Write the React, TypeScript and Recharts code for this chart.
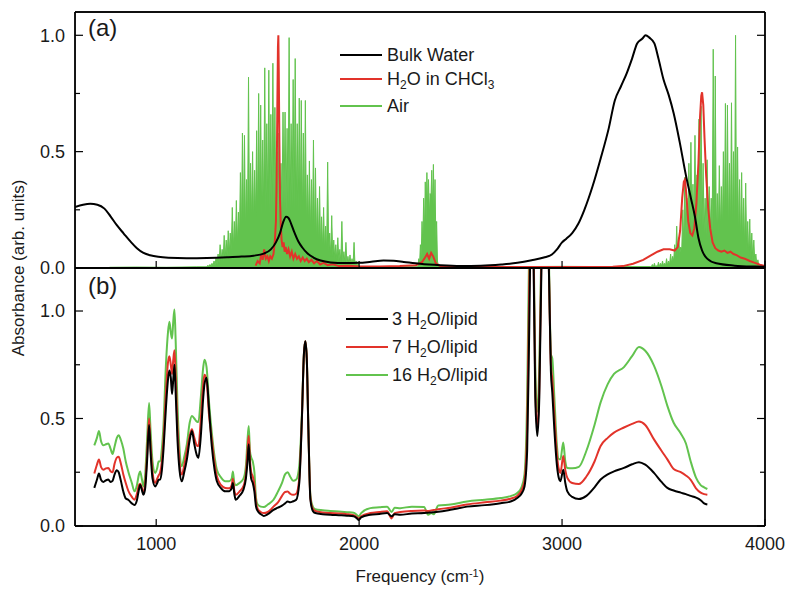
import { Area, ComposedChart, Line, LineChart, XAxis, YAxis } from 'recharts';

// ---- panel (a): reference spectra -------------------------------------

const bulkWater: [number, number][] = [
  [600, 0.262], [640, 0.272], [675, 0.276], [710, 0.272], [745, 0.255], [775, 0.222],
  [805, 0.185], [840, 0.148], [875, 0.112], [905, 0.085], [935, 0.066], [970, 0.055],
  [1010, 0.048], [1060, 0.044], [1150, 0.042], [1250, 0.043], [1350, 0.046], [1420, 0.049],
  [1480, 0.053], [1530, 0.062], [1565, 0.08], [1590, 0.11], [1610, 0.15], [1625, 0.195],
  [1640, 0.22], [1652, 0.215], [1665, 0.19], [1680, 0.155], [1700, 0.115], [1720, 0.088],
  [1745, 0.063], [1775, 0.045], [1810, 0.032], [1860, 0.024], [1930, 0.021], [2000, 0.022],
  [2060, 0.027], [2120, 0.032], [2170, 0.031], [2220, 0.026], [2300, 0.018], [2400, 0.012],
  [2500, 0.009], [2600, 0.01], [2700, 0.015], [2780, 0.022], [2850, 0.033], [2910, 0.045],
  [2950, 0.058], [2975, 0.08], [3000, 0.11], [3020, 0.125], [3050, 0.15], [3080, 0.19],
  [3110, 0.25], [3150, 0.35], [3190, 0.47], [3230, 0.6], [3260, 0.72], [3290, 0.78],
  [3320, 0.84], [3345, 0.9], [3370, 0.965], [3395, 0.985], [3412, 1.0], [3430, 0.99],
  [3455, 0.965], [3475, 0.9], [3500, 0.81], [3525, 0.745], [3550, 0.665], [3580, 0.54],
  [3610, 0.4], [3635, 0.3], [3655, 0.22], [3672, 0.13], [3690, 0.075], [3715, 0.04],
  [3760, 0.02], [3850, 0.01], [3950, 0.006], [4000, 0.005],
];

const waterInChcl3: [number, number][] = [
  [1490, 0.01], [1500, 0.03], [1510, 0.02], [1518, 0.06], [1525, 0.035], [1532, 0.08],
  [1540, 0.04], [1548, 0.05], [1555, 0.03], [1562, 0.05], [1570, 0.04], [1578, 0.06],
  [1585, 0.12], [1590, 0.2], [1594, 0.4], [1597, 0.7], [1600, 0.95], [1602, 1.0],
  [1604, 0.85], [1607, 0.55], [1610, 0.3], [1614, 0.18], [1618, 0.12], [1623, 0.09],
  [1628, 0.11], [1633, 0.07], [1638, 0.09], [1645, 0.06], [1652, 0.08], [1660, 0.05],
  [1668, 0.07], [1676, 0.04], [1685, 0.06], [1694, 0.04], [1703, 0.05], [1712, 0.03],
  [1722, 0.045], [1732, 0.03], [1742, 0.04], [1752, 0.025], [1765, 0.035], [1778, 0.02],
  [1792, 0.03], [1808, 0.015], [1825, 0.022], [1845, 0.012], [1870, 0.016], [1900, 0.008],
  [1950, 0.01], [2000, 0.006], [2100, 0.006], [2200, 0.008], [2280, 0.012], [2310, 0.025],
  [2325, 0.045], [2335, 0.06], [2345, 0.04], [2355, 0.065], [2365, 0.05], [2378, 0.02],
  [2400, 0.008], [2500, 0.005], [2700, 0.004], [2900, 0.004], [3100, 0.004], [3250, 0.005],
  [3300, 0.008], [3350, 0.018], [3400, 0.035], [3440, 0.055], [3470, 0.07], [3500, 0.08],
  [3530, 0.08], [3555, 0.075], [3570, 0.09], [3582, 0.16], [3592, 0.3], [3600, 0.37],
  [3606, 0.38], [3613, 0.31], [3622, 0.2], [3632, 0.15], [3642, 0.14], [3652, 0.17],
  [3662, 0.28], [3672, 0.45], [3680, 0.65], [3686, 0.74], [3690, 0.755], [3696, 0.7],
  [3702, 0.56], [3710, 0.4], [3720, 0.26], [3730, 0.17], [3742, 0.11], [3755, 0.085],
  [3770, 0.075], [3785, 0.07], [3800, 0.075], [3815, 0.065], [3830, 0.07], [3845, 0.06],
  [3860, 0.055], [3880, 0.045], [3900, 0.04], [3925, 0.03], [3950, 0.022], [3975, 0.014],
  [4000, 0.008],
];

// air: quiet stretches plus three rotational bands sampled every 5 / 4 / 5 cm-1
const airQuietLow: [number, number][] = [[770, 0.003], [900, 0.004], [1050, 0.003], [1200, 0.005]];
const airBand1Start = 1250;
const airBand1 = [
  0.005, 0.012, 0.004, 0.015, 0.006, 0.02, 0.008, 0.03, 0.01, 0.045,
  0.015, 0.06, 0.02, 0.1, 0.03, 0.08, 0.03, 0.14, 0.04, 0.12,
  0.05, 0.16, 0.06, 0.15, 0.07, 0.26, 0.08, 0.2, 0.09, 0.29,
  0.1, 0.24, 0.12, 0.41, 0.14, 0.58, 0.15, 0.57, 0.16, 0.38,
  0.18, 0.82, 0.17, 0.45, 0.2, 0.5, 0.19, 0.42, 0.22, 0.59,
  0.21, 0.75, 0.23, 0.7, 0.2, 0.55, 0.24, 0.86, 0.22, 0.62,
  0.25, 0.85, 0.23, 0.66, 0.26, 0.88, 0.24, 0.69, 0.22, 0.5,
  0.2, 0.58, 0.22, 0.45, 0.25, 0.67, 0.26, 0.67, 0.24, 0.6,
  0.27, 0.99, 0.25, 0.62, 0.26, 0.81, 0.24, 0.9, 0.25, 0.62,
  0.23, 0.73, 0.22, 0.72, 0.2, 0.58, 0.19, 0.72, 0.18, 0.4,
  0.17, 0.46, 0.15, 0.38, 0.14, 0.55, 0.12, 0.43, 0.11, 0.3,
  0.1, 0.35, 0.09, 0.22, 0.08, 0.26, 0.07, 0.18, 0.07, 0.455,
  0.06, 0.15, 0.05, 0.225, 0.05, 0.12, 0.04, 0.1, 0.035, 0.13,
  0.03, 0.08, 0.025, 0.2, 0.02, 0.07, 0.02, 0.11, 0.015, 0.05,
  0.012, 0.056, 0.01, 0.04, 0.008, 0.11, 0.006, 0.03, 0.005, 0.02,
  0.004,
];
const airQuietMid: [number, number][] = [[2100, 0.004], [2200, 0.005], [2285, 0.005]];
const airBand2Start = 2290;
const airBand2 = [
  0.01, 0.04, 0.02, 0.1, 0.05, 0.2, 0.1, 0.3, 0.15, 0.37,
  0.2, 0.41, 0.25, 0.38, 0.22, 0.32, 0.3, 0.42, 0.25, 0.445,
  0.2, 0.38, 0.12, 0.2, 0.03, 0.01,
];
const airQuietHigh: [number, number][] = [
  [2400, 0.005], [2600, 0.006], [2800, 0.006], [3000, 0.007], [3200, 0.006], [3435, 0.006],
];
const airBand3Start = 3440;
const airBand3 = [
  0.005, 0.015, 0.004, 0.02, 0.006, 0.01, 0.005, 0.025, 0.006, 0.02,
  0.008, 0.03, 0.01, 0.02, 0.01, 0.04, 0.012, 0.03, 0.015, 0.06,
  0.02, 0.05, 0.03, 0.1, 0.04, 0.18, 0.05, 0.13, 0.06, 0.09,
  0.08, 0.25, 0.1, 0.39, 0.12, 0.3, 0.14, 0.45, 0.16, 0.54,
  0.15, 0.36, 0.17, 0.57, 0.15, 0.4, 0.16, 0.64, 0.18, 0.695,
  0.17, 0.45, 0.15, 0.3, 0.14, 0.465, 0.13, 0.35, 0.14, 0.3,
  0.15, 0.94, 0.14, 0.825, 0.15, 0.32, 0.14, 0.44, 0.16, 0.35,
  0.15, 0.5, 0.17, 0.707, 0.16, 0.7, 0.15, 0.45, 0.16, 0.71,
  0.15, 0.5, 0.14, 1.0, 0.13, 0.52, 0.12, 0.38, 0.1, 0.41,
  0.09, 0.3, 0.08, 0.365, 0.06, 0.2, 0.05, 0.21, 0.04, 0.15,
  0.03, 0.12, 0.02, 0.06, 0.01, 0.035, 0.005, 0.01, 0.003,
];
const airQuietEnd: [number, number][] = [[3990, 0.002], [4000, 0.001]];

// ---- panel (b): hydrated lipid films ----------------------------------

const freqB = [
  695, 708, 718, 728, 740, 752, 764, 775, 785, 795, 806, 815, 826, 838, 850, 862, 880, 893,
  905, 915, 921, 930, 937, 945, 955, 965, 972, 982, 995, 1005, 1012, 1019, 1028, 1036, 1048,
  1058, 1065, 1072, 1078, 1084, 1090, 1096, 1105, 1115, 1126, 1138, 1151, 1165, 1176, 1188,
  1200, 1208, 1220, 1232, 1238, 1248, 1260, 1274, 1288, 1299, 1320, 1340, 1360, 1372, 1378,
  1385, 1392, 1410, 1430, 1442, 1450, 1456, 1462, 1468, 1476, 1484, 1492, 1500, 1515, 1530,
  1550, 1578, 1600, 1620, 1635, 1648, 1660, 1675, 1690, 1705, 1718, 1728, 1735, 1742, 1750,
  1760, 1772, 1784, 1820, 1858, 1900, 1940, 1973, 1990, 1998, 2010, 2055, 2100, 2138, 2160,
  2175, 2203, 2260, 2320, 2340, 2355, 2368, 2390, 2450, 2532, 2620, 2697, 2750, 2779, 2800,
  2815, 2828, 2838, 2850, 2860, 2868, 2878, 2888, 2900, 2918, 2935, 2945, 2952, 2962, 2975,
  2985, 2992, 3006, 3016, 3026, 3050, 3083, 3120, 3160, 3190, 3225, 3256, 3305, 3345, 3379,
  3410, 3453, 3490, 3519, 3550, 3585, 3610, 3634, 3660, 3683, 3700, 3716,
];
const lipid3 = [
  0.177, 0.215, 0.244, 0.215, 0.205, 0.212, 0.216, 0.205, 0.21, 0.24, 0.259, 0.25, 0.21, 0.16,
  0.128, 0.122, 0.105, 0.098, 0.12, 0.17, 0.192, 0.165, 0.145, 0.17, 0.3, 0.47, 0.35, 0.22,
  0.184, 0.2, 0.215, 0.216, 0.26, 0.356, 0.55, 0.68, 0.723, 0.69, 0.614, 0.68, 0.75, 0.62,
  0.4, 0.26, 0.208, 0.25, 0.309, 0.4, 0.442, 0.38, 0.33, 0.317, 0.42, 0.6, 0.66, 0.69, 0.55,
  0.372, 0.26, 0.208, 0.175, 0.161, 0.162, 0.175, 0.2, 0.15, 0.122, 0.14, 0.169, 0.22, 0.3,
  0.38, 0.28, 0.22, 0.2, 0.16, 0.09, 0.07, 0.055, 0.047, 0.055, 0.075, 0.085, 0.095, 0.105,
  0.114, 0.11, 0.115, 0.122, 0.2, 0.5, 0.8, 0.859, 0.78, 0.45, 0.122, 0.07, 0.06, 0.055,
  0.052, 0.05, 0.048, 0.045, 0.035, 0.028, 0.04, 0.052, 0.056, 0.06, 0.045, 0.055, 0.052,
  0.058, 0.06, 0.062, 0.063, 0.064, 0.066, 0.075, 0.09, 0.097, 0.106, 0.115, 0.13, 0.15,
  0.184, 0.35, 0.9, 1.6, 1.2, 0.6, 0.418, 0.6, 1.3, 1.7, 1.2, 0.72, 0.62, 0.45, 0.28, 0.22,
  0.208, 0.262, 0.2, 0.161, 0.135, 0.125, 0.14, 0.18, 0.216, 0.24, 0.254, 0.27, 0.287,
  0.297, 0.285, 0.247, 0.205, 0.177, 0.165, 0.155, 0.148, 0.14, 0.132, 0.12, 0.105, 0.1,
];
const lipid7 = [
  0.244, 0.285, 0.309, 0.275, 0.262, 0.268, 0.27, 0.255, 0.25, 0.29, 0.318, 0.322, 0.29, 0.24,
  0.2, 0.165, 0.135, 0.122, 0.15, 0.19, 0.197, 0.175, 0.153, 0.19, 0.33, 0.5, 0.38, 0.25,
  0.2, 0.22, 0.235, 0.247, 0.3, 0.4, 0.62, 0.76, 0.79, 0.75, 0.707, 0.77, 0.817, 0.7, 0.46,
  0.3, 0.239, 0.28, 0.35, 0.42, 0.45, 0.41, 0.375, 0.372, 0.5, 0.66, 0.703, 0.68, 0.52,
  0.403, 0.29, 0.231, 0.19, 0.177, 0.175, 0.19, 0.22, 0.165, 0.145, 0.16, 0.185, 0.24, 0.35,
  0.42, 0.31, 0.25, 0.23, 0.19, 0.11, 0.08, 0.065, 0.06, 0.065, 0.09, 0.11, 0.14, 0.158,
  0.16, 0.15, 0.145, 0.15, 0.22, 0.5, 0.8, 0.859, 0.78, 0.45, 0.13, 0.08, 0.07, 0.063, 0.06,
  0.058, 0.055, 0.05, 0.04, 0.035, 0.045, 0.06, 0.065, 0.068, 0.035, 0.06, 0.065, 0.07,
  0.072, 0.07, 0.072, 0.074, 0.078, 0.085, 0.1, 0.11, 0.118, 0.128, 0.14, 0.165, 0.21, 0.45,
  1.1, 1.6, 1.25, 0.65, 0.45, 0.65, 1.35, 1.7, 1.2, 0.75, 0.68, 0.52, 0.33, 0.26, 0.247,
  0.325, 0.26, 0.224, 0.2, 0.195, 0.23, 0.3, 0.372, 0.41, 0.434, 0.458, 0.475, 0.486, 0.47,
  0.403, 0.35, 0.31, 0.265, 0.25, 0.235, 0.215, 0.175, 0.155, 0.148, 0.145,
];
const lipid16 = [
  0.375, 0.41, 0.442, 0.395, 0.375, 0.38, 0.384, 0.36, 0.335, 0.37, 0.41, 0.422, 0.4, 0.36,
  0.3, 0.255, 0.2, 0.161, 0.19, 0.24, 0.254, 0.215, 0.184, 0.23, 0.4, 0.572, 0.45, 0.3,
  0.247, 0.27, 0.3, 0.301, 0.36, 0.47, 0.75, 0.9, 0.95, 0.9, 0.872, 0.95, 1.007, 0.86, 0.56,
  0.36, 0.278, 0.32, 0.38, 0.48, 0.512, 0.5, 0.486, 0.484, 0.6, 0.74, 0.773, 0.74, 0.58,
  0.434, 0.32, 0.262, 0.225, 0.208, 0.208, 0.22, 0.254, 0.2, 0.19, 0.2, 0.22, 0.28, 0.4,
  0.465, 0.35, 0.32, 0.3, 0.25, 0.13, 0.1, 0.09, 0.088, 0.1, 0.122, 0.16, 0.2, 0.24, 0.25,
  0.23, 0.21, 0.216, 0.28, 0.52, 0.8, 0.859, 0.78, 0.45, 0.14, 0.09, 0.078, 0.073, 0.07,
  0.067, 0.064, 0.062, 0.05, 0.044, 0.06, 0.083, 0.087, 0.09, 0.065, 0.085, 0.083, 0.09,
  0.088, 0.052, 0.06, 0.055, 0.095, 0.1, 0.114, 0.122, 0.13, 0.14, 0.153, 0.18, 0.24, 0.6,
  1.3, 1.6, 1.3, 0.75, 0.53, 0.75, 1.4, 1.7, 1.25, 0.8, 0.778, 0.6, 0.37, 0.31, 0.31, 0.388,
  0.3, 0.27, 0.268, 0.275, 0.35, 0.47, 0.575, 0.66, 0.707, 0.739, 0.79, 0.833, 0.815, 0.746,
  0.65, 0.559, 0.48, 0.43, 0.385, 0.3, 0.225, 0.19, 0.18, 0.172,
];

// ---- axes ----------------------------------------------------------------

const xMajor = [1000, 2000, 3000, 4000];
const xMinor = [1500, 2500, 3500];
const yMajor = [0, 0.5, 1.0];
const yMinor = [0.25, 0.75];

const BLACK = '#000000';
const RED = '#e2332a';
const GREEN = '#62c34e';
const FONT = '"Liberation Sans", Arial, Helvetica, sans-serif';

const toRows = (pts: [number, number][]) => pts.map(([f, v]) => ({ f, v }));
const band = (start: number, step: number, vals: number[]) =>
  vals.map((v, i) => ({ f: start + i * step, v }));

const airData = [
  ...toRows(airQuietLow),
  ...band(airBand1Start, 5, airBand1),
  ...toRows(airQuietMid),
  ...band(airBand2Start, 4, airBand2),
  ...toRows(airQuietHigh),
  ...band(airBand3Start, 5, airBand3),
  ...toRows(airQuietEnd),
];

const lipidData = freqB.map((f, i) => ({
  f,
  three: lipid3[i],
  seven: lipid7[i],
  sixteen: lipid16[i],
}));

const axisLine = { stroke: '#000', strokeWidth: 1.4 };
const tickLine = { stroke: '#000', strokeWidth: 1.2 };
const blank = () => '';
// axes need a non-zero size to be drawn at all; keep it tiny so the frame stays put
const THIN = 0.01;

// Frame axes: bottom/left carry labels, top/right only mirror the ticks.
function frameAxes(yMax: number, showX: boolean) {
  const xCommon = {
    type: 'number' as const,
    domain: [600, 4000],
    allowDataOverflow: true,
    height: THIN,
    axisLine,
    tickLine,
    interval: 0 as const,
  };
  const yCommon = {
    type: 'number' as const,
    domain: [0, yMax],
    allowDataOverflow: true,
    width: THIN,
    axisLine,
    tickLine,
    interval: 0 as const,
  };
  return [
    <XAxis
      key="xb"
      xAxisId="x"
      dataKey="f"
      {...xCommon}
      ticks={xMajor}
      tickSize={-7}
      tickMargin={18}
      tick={{ fontSize: 18, fill: '#1a1a1a', fontFamily: FONT }}
      tickFormatter={showX ? (v: number) => String(v) : blank}
    />,
    <XAxis key="xbm" xAxisId="xm" {...xCommon} ticks={xMinor} tickSize={-4} tickFormatter={blank} />,
    <XAxis key="xt" xAxisId="xt" orientation="top" {...xCommon} ticks={xMajor} tickSize={-7} tickFormatter={blank} />,
    <XAxis key="xtm" xAxisId="xtm" orientation="top" {...xCommon} ticks={xMinor} tickSize={-4} tickFormatter={blank} />,
    <YAxis
      key="yl"
      yAxisId="y"
      {...yCommon}
      ticks={yMajor}
      tickSize={-8}
      tickMargin={18}
      tick={{ fontSize: 18, fill: '#1a1a1a', fontFamily: FONT }}
      tickFormatter={(v: number) => v.toFixed(1)}
    />,
    <YAxis key="ylm" yAxisId="ym" {...yCommon} ticks={yMinor} tickSize={-5} tickFormatter={blank} />,
    <YAxis key="yr" yAxisId="yr" orientation="right" {...yCommon} ticks={yMajor} tickSize={-8} tickFormatter={blank} />,
    <YAxis key="yrm" yAxisId="yrm" orientation="right" {...yCommon} ticks={yMinor} tickSize={-5} tickFormatter={blank} />,
  ];
}

type LegendRow = { color: string; label: React.ReactNode; y: number };

function LegendBox({ x, textX, rows }: { x: number; textX: number; rows: LegendRow[] }) {
  return (
    <>
      {rows.map((r, i) => (
        <div key={i} style={{ position: 'absolute', left: x, top: r.y - 12, height: 24, display: 'flex', alignItems: 'center' }}>
          <div style={{ width: 42, height: 2, background: r.color }} />
          <div style={{ position: 'absolute', left: textX - x, whiteSpace: 'nowrap', fontSize: 18, lineHeight: '24px', color: '#1a1a1a' }}>
            {r.label}
          </div>
        </div>
      ))}
    </>
  );
}

const sub = (t: string) => <sub style={{ fontSize: 12, verticalAlign: '-0.35em', lineHeight: 0 }}>{t}</sub>;

export default function App() {
  const layer = { position: 'absolute' as const, left: 0, top: 0 };
  return (
    <div style={{ position: 'fixed', left: 0, top: 0, width: 785, height: 589, background: '#fff', fontFamily: FONT, overflow: 'hidden' }}>
      <div style={layer}>
        <ComposedChart width={785} height={589} margin={{ top: 12, right: 20, bottom: 321, left: 75 }}>
          {frameAxes(1.1, false)}
          <Area
            xAxisId="x"
            yAxisId="y"
            data={airData}
            dataKey="v"
            type="linear"
            stroke={GREEN}
            strokeWidth={1}
            fill={GREEN}
            fillOpacity={1}
            dot={false}
            activeDot={false}
            isAnimationActive={false}
          />
          <Line xAxisId="x" yAxisId="y" data={toRows(waterInChcl3)} dataKey="v" type="linear" stroke={RED} strokeWidth={2} dot={false} isAnimationActive={false} />
          <Line xAxisId="x" yAxisId="y" data={toRows(bulkWater)} dataKey="v" type="monotone" stroke={BLACK} strokeWidth={2} dot={false} isAnimationActive={false} />
        </ComposedChart>
      </div>
      <div style={layer}>
        <LineChart width={785} height={589} data={lipidData} margin={{ top: 268, right: 20, bottom: 63, left: 75 }}>
          {frameAxes(1.2, true)}
          <Line xAxisId="x" yAxisId="y" dataKey="sixteen" type="monotone" stroke={GREEN} strokeWidth={2} dot={false} isAnimationActive={false} />
          <Line xAxisId="x" yAxisId="y" dataKey="seven" type="monotone" stroke={RED} strokeWidth={2} dot={false} isAnimationActive={false} />
          <Line xAxisId="x" yAxisId="y" dataKey="three" type="monotone" stroke={BLACK} strokeWidth={2} dot={false} isAnimationActive={false} />
        </LineChart>
      </div>

      <div style={{ position: 'absolute', left: 88, top: 14, fontSize: 24, lineHeight: '28px', color: '#1a1a1a' }}>(a)</div>
      <div style={{ position: 'absolute', left: 88, top: 272, fontSize: 24, lineHeight: '28px', color: '#1a1a1a' }}>(b)</div>

      <LegendBox
        x={340}
        textX={387}
        rows={[
          { color: BLACK, label: 'Bulk Water', y: 55 },
          { color: RED, label: <>H{sub('2')}O in CHCl{sub('3')}</>, y: 79 },
          { color: GREEN, label: 'Air', y: 106 },
        ]}
      />
      <LegendBox
        x={346}
        textX={392}
        rows={[
          { color: BLACK, label: <>3 H{sub('2')}O/lipid</>, y: 319 },
          { color: RED, label: <>7 H{sub('2')}O/lipid</>, y: 347 },
          { color: GREEN, label: <>16 H{sub('2')}O/lipid</>, y: 375 },
        ]}
      />

      <div
        style={{
          position: 'absolute',
          left: 19 - 150,
          top: 268 - 11,
          width: 300,
          height: 22,
          lineHeight: '22px',
          textAlign: 'center',
          fontSize: 17,
          color: '#1a1a1a',
          transform: 'rotate(-90deg)',
        }}
      >
        Absorbance (arb. units)
      </div>
      <div style={{ position: 'absolute', left: 270, top: 566, width: 300, textAlign: 'center', fontSize: 17, lineHeight: '22px', color: '#1a1a1a' }}>
        Frequency (cm<sup style={{ fontSize: 11, verticalAlign: '0.5em', lineHeight: 0 }}>-1</sup>)
      </div>
    </div>
  );
}
